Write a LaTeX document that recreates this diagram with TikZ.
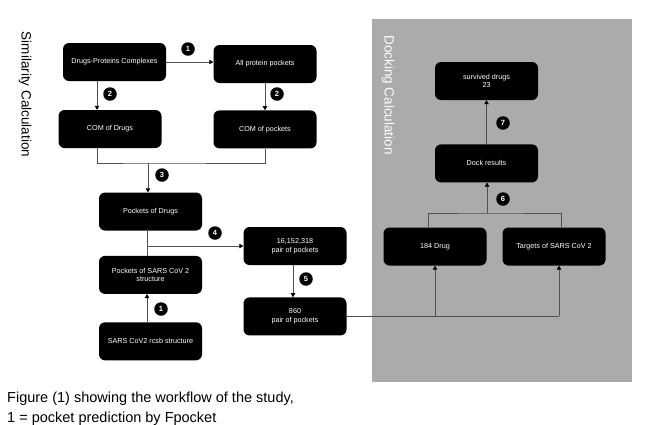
\documentclass[tikz,border=0pt]{standalone}
\usepackage{fontspec}
\setmainfont{Liberation Sans}
\usepackage{tikz}
\usetikzlibrary{
  arrows.meta,
  positioning
}
\definecolor{boxblack}{RGB}{0,0,0}
\definecolor{linegray}{RGB}{80,80,80}
\definecolor{panelgray}{RGB}{171,171,171}
\tikzset{
  stepbox/.style={fill=boxblack,rounded corners=6pt,text=white,align=center,
    minimum width=103pt,minimum height=38pt,inner sep=2pt,
    font=\fontsize{7.2}{8.7}\selectfont},
  badge/.style={circle,fill=black,text=white,inner sep=0pt,minimum size=13.5pt,
    font=\fontsize{7.5}{8}\selectfont\bfseries},
  flow/.style={-{Triangle[length=4pt,width=4.5pt,color=black]},
    line width=0.7pt,draw=linegray},
  joinline/.style={line width=0.7pt,draw=linegray},
  sidelab/.style={rotate=-90,font=\fontsize{13.5}{16}\selectfont,inner sep=0pt},
  captext/.style={anchor=base west,font=\fontsize{14.5}{20}\selectfont,inner sep=0pt},
  panel/.style={fill=panelgray,minimum width=260pt,minimum height=363pt,inner sep=0pt}
}

\begin{document}
\begin{tikzpicture}[x=1pt,y=-1pt]
  \useasboundingbox (0,0) rectangle (647,424);
  \node[panel] (dockpanel) at (502,200.5) {};
  \node[sidelab] (simlab) at (25,94.5) {Similarity Calculation};
  \node[sidelab,text=white] (docklab) at (388,95) {Docking Calculation};
  % similarity side
  \node[stepbox] (complexes) at (114.5,62) {Drugs-Proteins Complexes};
  \node[stepbox] (allpockets) at (265,64) {All protein pockets};
  \node[stepbox] (comdrugs) at (110,129) {COM of Drugs};
  \node[stepbox,below=27pt of allpockets] (compockets) {COM of pockets};
  \node[stepbox] (drugpockets) at (150.5,211.5) {Pockets of Drugs};
  \node[stepbox,below=25pt of drugpockets] (sarspockets) {Pockets of SARS CoV 2\\structure};
  \node[stepbox,below=28pt of sarspockets] (rcsb) {SARS CoV2 rcsb structure};
  \node[stepbox] (allpairs) at (295,246) {16,152,318\\pair of pockets};
  \node[stepbox,below=32pt of allpairs] (keptpairs) {860\\pair of pockets};
  % docking side
  \node[stepbox] (survived) at (486.5,81) {survived drugs\\23};
  \node[stepbox,below=44pt of survived] (dockres) {Dock results};
  \node[stepbox] (drugs) at (435,246.5) {184 Drug};
  \node[stepbox] (targets) at (554,246.5) {Targets of SARS CoV 2};
  % step numbers
  \node[badge] (n1a) at (188,49) {1};
  \node[badge] (n2a) at (110,94) {2};
  \node[badge] (n2b) at (277,94) {2};
  \node[badge] (n3) at (162,175) {3};
  \node[badge] (n4) at (215,233) {4};
  \node[badge] (n1b) at (161,309) {1};
  \node[badge] (n5) at (306,279) {5};
  \node[badge] (n6) at (503,199) {6};
  \node[badge] (n7) at (503,123) {7};
  % connectors
  \coordinate (join3) at (148,163);
  \coordinate (join6) at (487,213);
  \coordinate (totargets) at ([xshift=5pt]targets.south);
  \draw[flow] (complexes.east) -- (complexes.east -| allpockets.west);
  \draw[flow] ([xshift=-17.5pt]complexes.south) -- ([xshift=-17.5pt]complexes.south |- comdrugs.north);
  \draw[flow] (allpockets.south) -- (compockets.north);
  \draw[joinline] ([xshift=-13pt]comdrugs.south) |- (join3) -| (compockets.south);
  \draw[flow] (join3) -- (join3 |- drugpockets.north);
  \draw[joinline] ([xshift=-3.5pt]drugpockets.south) -- ([xshift=-3.5pt]sarspockets.north);
  \draw[flow] ([xshift=-3.5pt]drugpockets.south |- allpairs.west) -- (allpairs.west);
  \draw[flow] ([xshift=-3.5pt]rcsb.north) -- ([xshift=-3.5pt]sarspockets.south);
  \draw[flow] ([xshift=-2pt]allpairs.south) -- ([xshift=-2pt]keptpairs.north);
  \draw[joinline] (keptpairs.east) -- (keptpairs.east -| totargets);
  \draw[flow] (keptpairs.east -| drugs.south) -- (drugs.south);
  \draw[flow] (keptpairs.east -| totargets) -- (totargets);
  \draw[joinline] ([xshift=-7pt]drugs.north) |- (join6) -| ([xshift=7pt]targets.north);
  \draw[flow] (join6) -- (join6 |- dockres.south);
  \draw[flow] (dockres.north) -- (survived.south);
  % caption
  \node[captext] (cap1) at (7,402.5) {Figure (1) showing the workflow of the study,};
  \node[captext] (cap2) at (7,422) {1 = pocket prediction by Fpocket};
\end{tikzpicture}
\end{document}
